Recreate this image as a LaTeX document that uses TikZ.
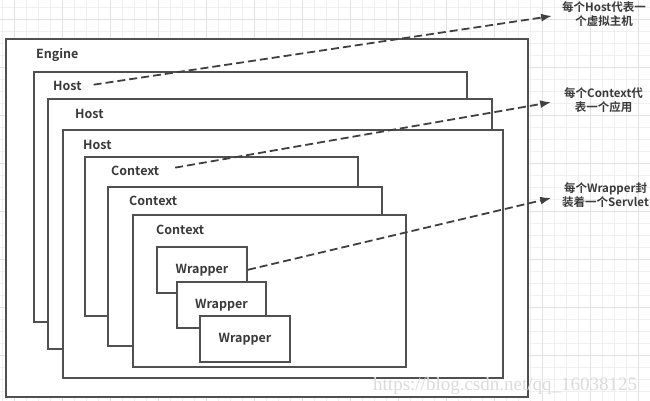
\documentclass[tikz,border=0pt]{standalone}
\usepackage{fontspec}
\setmainfont{Noto Sans CJK SC}[BoldFont={Noto Sans CJK SC Bold}]
\newfontfamily\markfont{Liberation Serif}
\usetikzlibrary{arrows.meta}

\definecolor{boxgray}{HTML}{505050}
\definecolor{txtgray}{HTML}{3A3A3A}
\definecolor{linegray}{HTML}{404040}
\definecolor{gridminor}{HTML}{F0F0F0}
\definecolor{gridmajor}{HTML}{E2E2E2}

\begin{document}
\begin{tikzpicture}[x=1pt, y=-1pt,
   box/.style={draw=boxgray, line width=1.5pt, fill=white, anchor=north west,
      inner sep=0pt, outer sep=0pt, text=txtgray, font=\fontsize{12.5}{14}\selectfont\bfseries},
   lbl/.style={anchor=base west, inner sep=0pt, text=txtgray, font=\fontsize{12.5}{14}\selectfont\bfseries},
   note/.style={anchor=west, inner sep=0pt, align=center, text=txtgray, font=\fontsize{11.5}{14}\selectfont\bfseries},
   link/.style={draw=linegray, line width=1.8pt, dash pattern=on 8pt off 4pt, -{Latex[length=11pt,width=8pt]}}]
   \useasboundingbox (0,0) rectangle (650,401);

   % background grid
   \foreach \gx in {2,14,...,650} \draw[gridminor, line width=0.6pt] (\gx,0) -- (\gx,401);
   \foreach \gy in {7,19,...,401} \draw[gridminor, line width=0.6pt] (0,\gy) -- (650,\gy);
   \foreach \gx in {14,62,...,650} \draw[gridmajor, line width=0.7pt] (\gx,0) -- (\gx,401);
   \foreach \gy in {19,67,...,401} \draw[gridmajor, line width=0.7pt] (0,\gy) -- (650,\gy);

   % containers
   \node[box, minimum width=522pt, minimum height=358pt] (eng) at (6,39) {};
   \node[box, minimum width=433pt, minimum height=250pt] (h1) at (34,72) {};
   \node[box, minimum width=444pt, minimum height=250pt] (h2) at (48,99) {};
   \node[box, minimum width=440pt, minimum height=248pt] (h3) at (63,130) {};
   \node[box, minimum width=273pt, minimum height=159pt] (c1) at (85,157) {};
   \node[box, minimum width=274pt, minimum height=159pt] (c2) at (108,187) {};
   \node[box, minimum width=273pt, minimum height=152pt] (c3) at (133,215) {};
   \node[box, minimum width=90pt, minimum height=46pt] (w1) at (157,247) {Wrapper};
   \node[box, minimum width=89pt, minimum height=46pt] (w2) at (177,282) {Wrapper};
   \node[box, minimum width=90pt, minimum height=46pt] (w3) at (200,316) {Wrapper};

   % labels
   \node[lbl] (englbl) at (36,59) {Engine};
   \node[lbl] (h1lbl) at (53,91) {Host};
   \node[lbl] (h2lbl) at (75,119) {Host};
   \node[lbl] (h3lbl) at (83,149) {Host};
   \node[lbl] (c1lbl) at (111,175) {Context};
   \node[lbl] (c2lbl) at (129,205) {Context};
   \node[lbl] (c3lbl) at (156,234) {Context};

   % notes
   \node[note] (hnote) at (562,14.5) {每个Host代表一\\个虚拟主机};
   \node[note] (cnote) at (564,100) {每个Context代\\表一个应用};
   \node[note] (wnote) at (562,195.5) {每个Wrapper封\\装着一个Servlet};

   \draw[link, shorten <=12pt, shorten >=10pt] (h1lbl.east) -- (hnote.west);
   \draw[link, shorten <=16pt, shorten >=13pt] (c1lbl.east) -- (cnote.west);
   \draw[link, shorten <=1pt, shorten >=11pt] (w1.east) -- (wnote.west);

   \node[anchor=base west, inner sep=0pt, text=gray!28, font=\markfont\fontsize{19}{19}\selectfont] (wm) at (373,390) {https://blog.csdn.net/qq\_16038125};
\end{tikzpicture}
\end{document}
